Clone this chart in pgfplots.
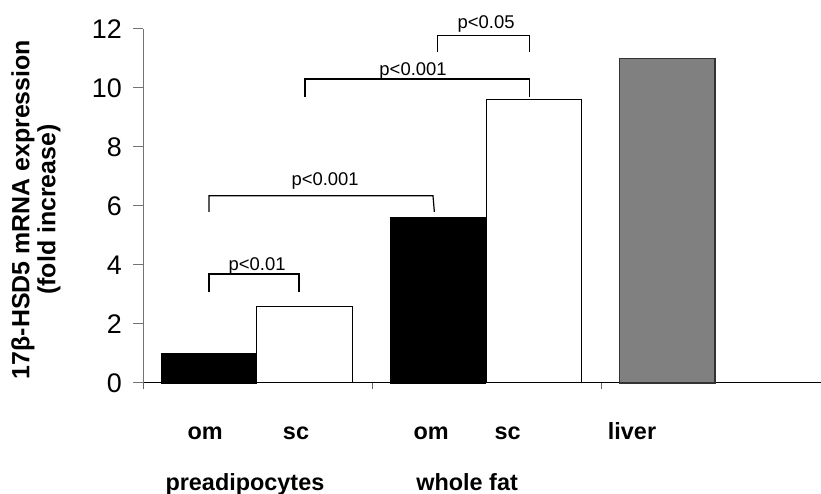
\documentclass[border=0pt]{standalone}
\usepackage{fontspec}
\setmainfont{Liberation Sans}
\usepackage{pgfplots}
\pgfplotsset{compat=1.18}

\begin{document}
\begin{tikzpicture}[x=1bp,y=1bp]
\useasboundingbox (0,0) rectangle (821,494);
\begin{axis}[
  at={(143bp,111bp)}, anchor=south west,
  scale only axis, width=678bp, height=354bp,
  xmin=0, xmax=2.96, ymin=0, ymax=12,
  axis x line=bottom, axis y line=left,
  x axis line style={-, black, line width=1bp},
  y axis line style={-, black!55, line width=1bp},
  ytick={0,2,...,12},
  xtick=\empty,
  extra x ticks={0,1,2}, extra x tick labels={},
  extra x tick style={major tick length=6bp, tick style={black!60, line width=0.8bp}},
  tick align=outside, major tick length=10bp,
  ytick style={black!55, line width=1bp},
  yticklabel style={font=\fontsize{27}{27}\selectfont, inner sep=0pt, xshift=-11bp},
  /pgf/number format/assume math mode=true,
  ylabel={17β-HSD5 mRNA expression\\(fold increase)},
  ylabel style={align=center, font=\bfseries\fontsize{25}{26}\selectfont,
    at={(axis description cs:-0.158,0.49)}, anchor=center},
  clip=false,
]
% bars
\addplot[ybar, bar shift=0pt, bar width=0.417, fill=black, draw=black, line width=0.8bp]
  coordinates {(0.288,1.0) (1.288,5.6)};
\addplot[ybar, bar shift=0pt, bar width=0.417, fill=white, draw=black, line width=1bp]
  coordinates {(0.705,2.6) (1.707,9.6)};
\addplot[ybar, bar shift=0pt, bar width=0.417, fill=black!50, draw=black!80, line width=1.5bp]
  coordinates {(2.288,11.0)};

% significance brackets
\addplot[black, line width=1.2bp, mark=none]
  coordinates {(0.288,3.085) (0.288,3.695) (0.681,3.695) (0.681,3.085)};
\addplot[black, line width=1.2bp, mark=none]
  coordinates {(0.288,5.80) (0.288,6.35) (1.266,6.35) (1.272,5.80)};
\addplot[black, line width=1.2bp, mark=none]
  coordinates {(0.707,9.705) (0.707,10.305) (1.686,10.305) (1.686,9.705)};
\addplot[black, line width=1.2bp, mark=none]
  coordinates {(1.287,11.21) (1.287,11.77) (1.686,11.77) (1.686,11.21)};

\begin{scope}[every node/.style={anchor=base, font=\fontsize{18.5}{18}\selectfont, inner sep=0pt}]
\node at (axis cs:0.498,3.83) {p<0.01};
\node at (axis cs:0.795,6.71) {p<0.001};
\node at (axis cs:1.179,10.44) {p<0.001};
\node at (axis cs:1.498,12.02) {p<0.05};
\end{scope}

\begin{scope}[every node/.style={anchor=base, font=\bfseries\fontsize{23.5}{23}\selectfont, inner sep=0pt}]
\node at (axis cs:0.271,-1.93) {om};
\node at (axis cs:0.668,-1.93) {sc};
\node at (axis cs:1.258,-1.93) {om};
\node at (axis cs:1.592,-1.93) {sc};
\node at (axis cs:2.135,-1.93) {liver};
\node at (axis cs:0.445,-3.63) {preadipocytes};
\node at (axis cs:1.415,-3.63) {whole fat};
\end{scope}
\end{axis}
\end{tikzpicture}
\end{document}
